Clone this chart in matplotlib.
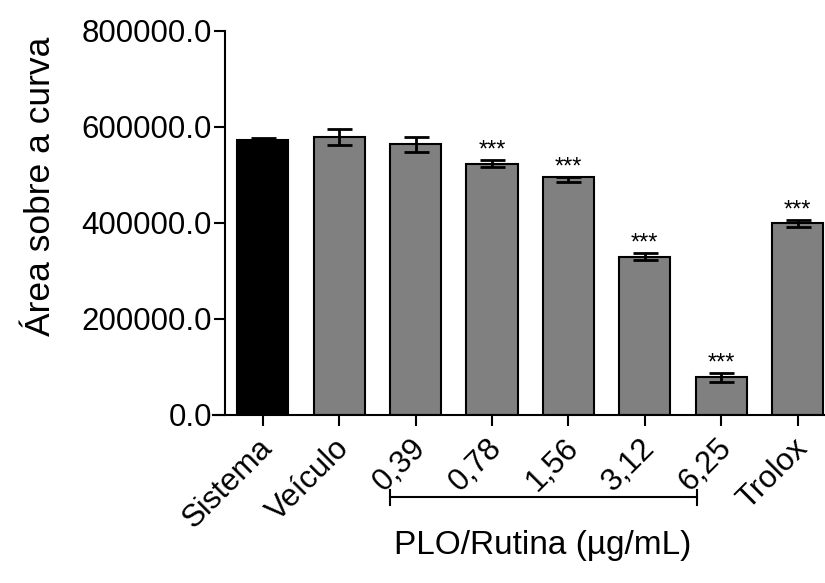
import matplotlib
matplotlib.use("Agg")
import matplotlib.pyplot as plt
import matplotlib.transforms as mtransforms
import numpy as np

plt.rcParams["font.family"] = ["Liberation Sans", "DejaVu Sans"]

# group labels, means and SEM (lower / upper arm of the error bar)
groups = ["Sistema", "Veículo", "0,39", "0,78", "1,56", "3,12", "6,25", "Trolox"]
means = [572000, 578000, 563000, 523000, 495500, 329000, 78000, 398500]
err_lo = [5000, 17000, 15500, 7000, 10000, 7500, 9000, 7000]
err_hi = [5000, 17000, 15500, 7000, 0, 7500, 9000, 7000]
signif = ["", "", "", "***", "***", "***", "***", "***"]
colors = ["black"] + ["#808080"] * 7

x = np.arange(len(groups))

fig = plt.figure(figsize=(8.25, 5.83), dpi=100)
ax = fig.add_axes([213 / 825, 168.3 / 583, 612 / 825, 384 / 583])

ax.bar(x, means, width=0.67, color=colors, edgecolor="black", linewidth=1.5, zorder=2)
ax.errorbar(x, means, yerr=[err_lo, err_hi], fmt="none", ecolor="black",
            elinewidth=2, capsize=9, capthick=2, zorder=3)

for xi, m, e, s in zip(x, means, err_hi, signif):
    if s:
        ax.annotate(s, (xi, m + e), xytext=(0, -1), textcoords="offset points",
                    ha="center", va="bottom", fontsize=17)

ax.set_xlim(-0.652, 7.36)
ax.set_ylim(0, 800000)
ax.spines["left"].set_position(("data", -0.5))
ax.spines["top"].set_visible(False)
ax.spines["right"].set_visible(False)
for sp in ("left", "bottom"):
    ax.spines[sp].set_linewidth(1.5)

ax.set_yticks([0, 200000, 400000, 600000, 800000])
ax.set_yticklabels([f"{v:.1f}" for v in [0, 200000, 400000, 600000, 800000]])
ax.tick_params(axis="y", length=8, width=1.5, labelsize=22.5, pad=1)
ax.set_xticks(x)
ax.set_xticklabels(groups, rotation=45, ha="right", rotation_mode="anchor")
ax.tick_params(axis="x", length=8, width=1.5, labelsize=22.5, pad=5)
shift = mtransforms.ScaledTranslation(-5 / 100, 0, fig.dpi_scale_trans)
for lbl in ax.get_xticklabels():
    lbl.set_transform(lbl.get_transform() + shift)

ax.set_ylabel("Área sobre a curva", fontsize=25.5)
ax.yaxis.set_label_coords(-0.255, 0.595)

# bracket under the PLO/Rutina concentrations
ax.plot([1.665, 5.68], [-0.215, -0.215], color="black", lw=1.5,
        transform=ax.get_xaxis_transform(), clip_on=False)
for bx in (1.665, 5.68):
    ax.plot([bx, bx], [-0.195, -0.235], color="black", lw=1.5,
            transform=ax.get_xaxis_transform(), clip_on=False)
ax.text(3.67, -0.34, "PLO/Rutina (µg/mL)", transform=ax.get_xaxis_transform(),
        ha="center", va="center", fontsize=24)

fig.savefig("out.png", dpi=100)
